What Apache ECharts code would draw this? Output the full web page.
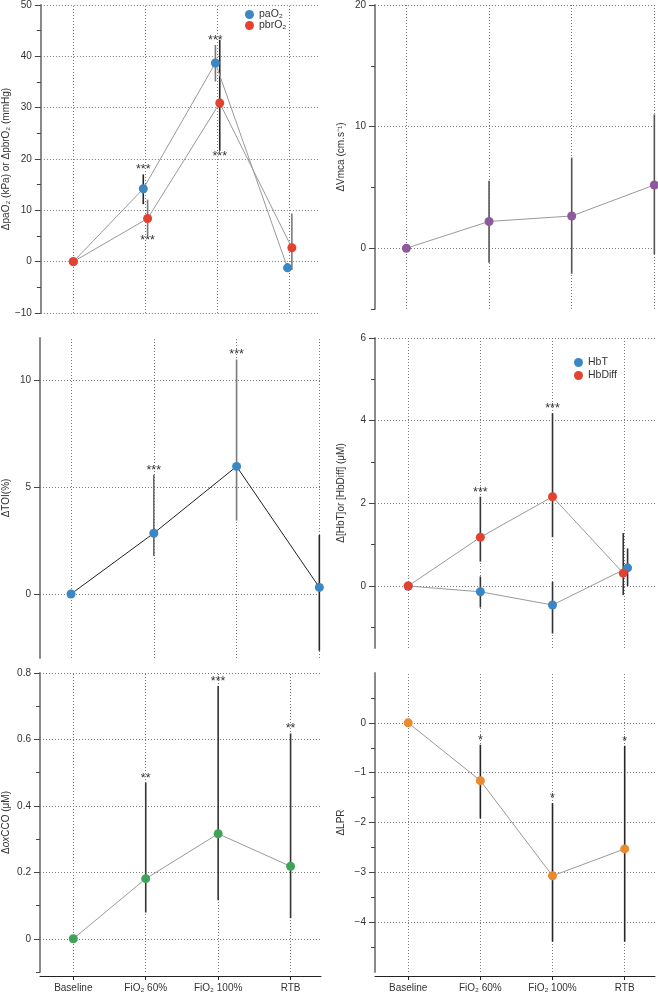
<!DOCTYPE html>
<html><head><meta charset="utf-8">
<script src="https://cdn.jsdelivr.net/npm/echarts@6/dist/echarts.min.js"></script>
<style>html,body{margin:0;padding:0;background:#fff}#c{width:658px;height:994px}</style>
</head><body><div id="c"></div><script>
// ---------- data ----------
const categories = ['Baseline', 'FiO₂ 60%', 'FiO₂ 100%', 'RTB'];

// panel 1: paO2 / pbrO2
const pao2Mean = [0, 14.2, 38.7, -1.2];
const pao2Lo   = [0, 11.2, 35.1, -2.0];
const pao2Hi   = [0, 17.0, 42.2, -0.3];
const pao2Stars = ['', '***', '***', ''];
const pbro2Mean = [0, 8.4, 30.9, 2.7];
const pbro2Lo   = [0, 5.1, 21.6, -1.6];
const pbro2Hi   = [0, 12.1, 43.2, 9.4];
const pbro2Stars = ['', '***', '***', ''];
const p1Major = [-10, 0, 10, 20, 30, 40, 50];
const p1Minor = [-5, 5, 15, 25, 35, 45];

// panel 2: Vmca
const vmcaMean = [0, 2.2, 2.65, 5.2];
const vmcaLo   = [0, -1.2, -2.1, -0.5];
const vmcaHi   = [0, 5.55, 7.45, 11.0];
const vmcaStars = ['', '', '', ''];
const p2Major = [0, 10, 20];
const p2Minor = [-5, 5, 15];

// panel 3: TOI
const toiMean = [0, 2.85, 5.98, 0.31];
const toiLo   = [0, 1.78, 3.44, -2.66];
const toiHi   = [0, 5.59, 10.99, 2.77];
const toiStars = ['', '***', '***', ''];
const p3Major = [0, 5, 10];
const p3Minor = [];

// panel 4: HbT / HbDiff
const hbtMean = [0, -0.14, -0.46, 0.44];
const hbtLo   = [0, -0.52, -1.15, 0.0];
const hbtHi   = [0, 0.23, 0.10, 0.91];
const hbtStars = ['', '', '', ''];
const hbdiffMean = [0, 1.18, 2.16, 0.31];
const hbdiffLo   = [0, 0.59, 1.18, -0.22];
const hbdiffHi   = [0, 2.16, 4.18, 1.28];
const hbdiffStars = ['', '***', '***', ''];
const p4Major = [0, 2, 4, 6];
const p4Minor = [-1, 1, 3, 5];

// panel 5: oxCCO
const ccoMean = [0, 0.181, 0.316, 0.218];
const ccoLo   = [0, 0.079, 0.116, 0.062];
const ccoHi   = [0, 0.47, 0.761, 0.618];
const ccoStars = ['', '**', '***', '**'];
const p5Major = [0, 0.2, 0.4, 0.6, 0.8];
const p5Minor = [-0.1, 0.1, 0.3, 0.5, 0.7];

// panel 6: LPR
const lprMean = [0, -1.16, -3.07, -2.53];
const lprLo   = [0, -1.92, -4.39, -4.39];
const lprHi   = [0, -0.44, -1.61, -0.46];
const lprStars = ['', '*', '*', '*'];
const p6Major = [-4, -3, -2, -1, 0];
const p6Minor = [-4.5, -3.5, -2.5, -1.5, -0.5, 0.5];

// ---------- styles ----------
const BLUE = '#3b87c3', RED = '#e5412f', PURPLE = '#8d5a9c', GREEN = '#3fa458', ORANGE = '#ea8a2c';
const FONT = '"Liberation Sans", Arial, Helvetica, sans-serif';
const DK = '#262626', MD = '#7a7a7a';

const panels = [
  { grid: {left: 40, top: 4, width: 280, height: 309}, xMin: -0.45, xMax: 3.42, yMin: -10, yMax: 50,
    major: p1Major, minor: p1Minor, name: 'ΔpaO₂ (kPa) or ΔpbrO₂ (mmHg)', xLabels: false, lineColor: '#9a9a9a',
    series: [
      {name: 'paO₂', mean: pao2Mean, lo: pao2Lo, hi: pao2Hi, stars: pao2Stars, side: 'above', color: BLUE,
       dodge: [0, -0.03, -0.03, -0.03], err: [DK, DK, MD, DK]},
      {name: 'pbrO₂', mean: pbro2Mean, lo: pbro2Lo, hi: pbro2Hi, stars: pbro2Stars, side: 'below', color: RED,
       dodge: [0, 0.03, 0.03, 0.03], err: [DK, MD, DK, MD]}
    ],
    legend: {left: 245, top: 9, gap: 0} },
  { grid: {left: 375, top: 4, width: 281, height: 305}, xMin: -0.38, xMax: 3.02, yMin: -5, yMax: 20,
    major: p2Major, minor: p2Minor, name: 'ΔVmca (cm.s⁻¹)', xLabels: false, lineColor: '#9a9a9a',
    series: [
      {name: 'Vmca', mean: vmcaMean, lo: vmcaLo, hi: vmcaHi, stars: vmcaStars, side: 'above', color: PURPLE,
       dodge: [0, 0, 0, 0], err: ['#555', '#555', '#555', '#555']}
    ] },
  { grid: {left: 40, top: 338, width: 281, height: 320}, xMin: -0.375, xMax: 3.02, yMin: -3, yMax: 12,
    major: p3Major, minor: p3Minor, name: 'ΔTOI(%)', xLabels: false, lineColor: '#222',
    series: [
      {name: 'TOI', mean: toiMean, lo: toiLo, hi: toiHi, stars: toiStars, side: 'above', color: BLUE,
       dodge: [0, 0, 0, 0], err: [DK, '#6a6a6a', '#7a7a7a', DK]}
    ] },
  { grid: {left: 375, top: 338, width: 280, height: 310}, xMin: -0.46, xMax: 3.42, yMin: -1.5, yMax: 6,
    major: p4Major, minor: p4Minor, name: 'Δ[HbT]or [HbDiff] (μM)', xLabels: false, lineColor: '#9a9a9a',
    series: [
      {name: 'HbT', mean: hbtMean, lo: hbtLo, hi: hbtHi, stars: hbtStars, side: 'above', color: BLUE,
       dodge: [0, 0, 0, 0.04], err: [DK, '#333', '#333', '#333']},
      {name: 'HbDiff', mean: hbdiffMean, lo: hbdiffLo, hi: hbdiffHi, stars: hbdiffStars, side: 'above', color: RED,
       dodge: [0, 0, 0, -0.02], err: [DK, '#333', '#333', '#333']}
    ],
    legend: {left: 574, top: 357, gap: 2} },
  { grid: {left: 40, top: 673, width: 281, height: 299}, xMin: -0.46, xMax: 3.42, yMin: -0.1, yMax: 0.8,
    major: p5Major, minor: p5Minor, name: '{n|Δ}{i|ox}{n|CCO (μM)}', xLabels: true, lineColor: '#9a9a9a',
    series: [
      {name: 'oxCCO', mean: ccoMean, lo: ccoLo, hi: ccoHi, stars: ccoStars, side: 'above', color: GREEN,
       dodge: [0, 0, 0, 0], err: ['#333', '#333', '#333', '#333']}
    ] },
  { grid: {left: 375, top: 673, width: 280, height: 299}, xMin: -0.46, xMax: 3.42, yMin: -5, yMax: 1,
    major: p6Major, minor: p6Minor, name: 'ΔLPR', xLabels: true, lineColor: '#9a9a9a',
    series: [
      {name: 'LPR', mean: lprMean, lo: lprLo, hi: lprHi, stars: lprStars, side: 'above', color: ORANGE,
       dodge: [0, 0, 0, 0], err: [DK, DK, DK, DK]}
    ] }
];

const fmtNum = v => String(+v.toFixed(2)).replace('-', '−');

const option = {animation: false, backgroundColor: '#fff', textStyle: {fontFamily: FONT},
  grid: [], xAxis: [], yAxis: [], series: [], legend: []};

panels.forEach((p, k) => {
  option.grid.push(Object.assign({containLabel: false}, p.grid));
  const catIdx = categories.map((c, i) => i);
  option.xAxis.push({
    type: 'value', gridIndex: k, min: p.xMin, max: p.xMax, show: p.xLabels, offset: 4,
    axisLine: {show: true, onZero: false, lineStyle: {color: '#222', width: 1}},
    axisTick: {show: true, customValues: catIdx, length: 4, lineStyle: {color: '#222'}},
    axisLabel: {show: true, customValues: catIdx, formatter: v => categories[Math.round(v)] || '',
      fontSize: 10, color: '#333', margin: 7, fontFamily: FONT},
    splitLine: {show: false}
  });
  option.yAxis.push({
    type: 'value', gridIndex: k, min: p.yMin, max: p.yMax, position: 'left',
    axisLine: {show: true, onZero: false, lineStyle: {color: '#8a8a8a', width: 2}},
    axisTick: {show: true, customValues: p.major, length: 6, lineStyle: {color: '#444', width: 1}},
    axisLabel: {show: true, customValues: p.major, formatter: fmtNum, fontSize: 10, color: '#333', margin: 9, fontFamily: FONT},
    splitLine: {show: false},
    name: p.name, nameLocation: 'middle', nameGap: 29,
    nameTextStyle: {fontSize: 10, color: '#333', fontFamily: FONT,
      rich: {n: {fontSize: 10, color: '#333', fontFamily: FONT}, i: {fontSize: 10, color: '#333', fontStyle: 'italic', fontFamily: FONT}}}
  });
  option.yAxis.push({
    type: 'value', gridIndex: k, min: p.yMin, max: p.yMax, position: 'left',
    axisLine: {show: false, onZero: false},
    axisTick: {show: p.minor.length > 0, customValues: p.minor, length: 4, lineStyle: {color: '#444', width: 1}},
    axisLabel: {show: false}, splitLine: {show: false}
  });
  const yIdx = 2 * k;
  // gridlines
  option.series.push({
    type: 'line', xAxisIndex: k, yAxisIndex: yIdx, data: [], silent: true, z: 1,
    markLine: {silent: true, z: 1, symbol: ['none', 'none'], label: {show: false}, animation: false,
      lineStyle: {type: [1, 2], color: '#7a7a7a', width: 1},
      emphasis: {disabled: true},
      data: catIdx.map(v => ({xAxis: v})).concat(p.major.map(v => ({yAxis: v})))}
  });
  p.series.forEach(s => {
    const errData = s.mean.map((m, i) => [i + s.dodge[i], s.lo[i], s.hi[i]]);
    option.series.push({
      type: 'custom', xAxisIndex: k, yAxisIndex: yIdx, z: 2, silent: true, data: errData,
      encode: {x: 0, y: [1, 2]},
      renderItem: (params, api) => {
        const a = api.coord([api.value(0), api.value(1)]);
        const b = api.coord([api.value(0), api.value(2)]);
        return {type: 'line', shape: {x1: a[0], y1: a[1], x2: b[0], y2: b[1]},
          style: {stroke: s.err[params.dataIndex], lineWidth: 1.6}};
      }
    });
    option.series.push({
      type: 'line', name: s.name, xAxisIndex: k, yAxisIndex: yIdx, z: 3,
      data: s.mean.map((m, i) => [i + s.dodge[i], m]),
      symbol: 'circle', symbolSize: 9, showSymbol: true,
      itemStyle: {color: s.color, borderWidth: 0},
      lineStyle: {color: p.lineColor, width: 1},
      emphasis: {disabled: true}
    });
    const starData = s.mean.map((m, i) => [i + s.dodge[i], s.side === 'above' ? s.hi[i] : s.lo[i]]);
    option.series.push({
      type: 'custom', xAxisIndex: k, yAxisIndex: yIdx, z: 4, silent: true, data: starData,
      renderItem: (params, api) => {
        const t = s.stars[params.dataIndex];
        if (!t) return null;
        const c = api.coord([api.value(0), api.value(1)]);
        return {type: 'text', x: c[0], y: s.side === 'above' ? c[1] + 2 : c[1] - 1,
          style: {text: t, align: 'center', verticalAlign: s.side === 'above' ? 'bottom' : 'top',
            fontSize: 12.5, fill: '#333', fontFamily: FONT}};
      }
    });
  });
  if (p.legend) {
    option.legend.push({
      left: p.legend.left, top: p.legend.top, orient: 'vertical', itemGap: p.legend.gap, padding: 0,
      itemWidth: 9, itemHeight: 9, icon: 'circle', selectedMode: false,
      data: p.series.map(s => s.name),
      textStyle: {fontSize: 10.5, color: '#333', fontFamily: FONT, padding: [0, 0, 0, 0], lineHeight: 11}
    });
  }
});

const chart = echarts.init(document.getElementById('c'), null, {renderer: 'canvas'});
chart.setOption(option);
</script></body></html>
